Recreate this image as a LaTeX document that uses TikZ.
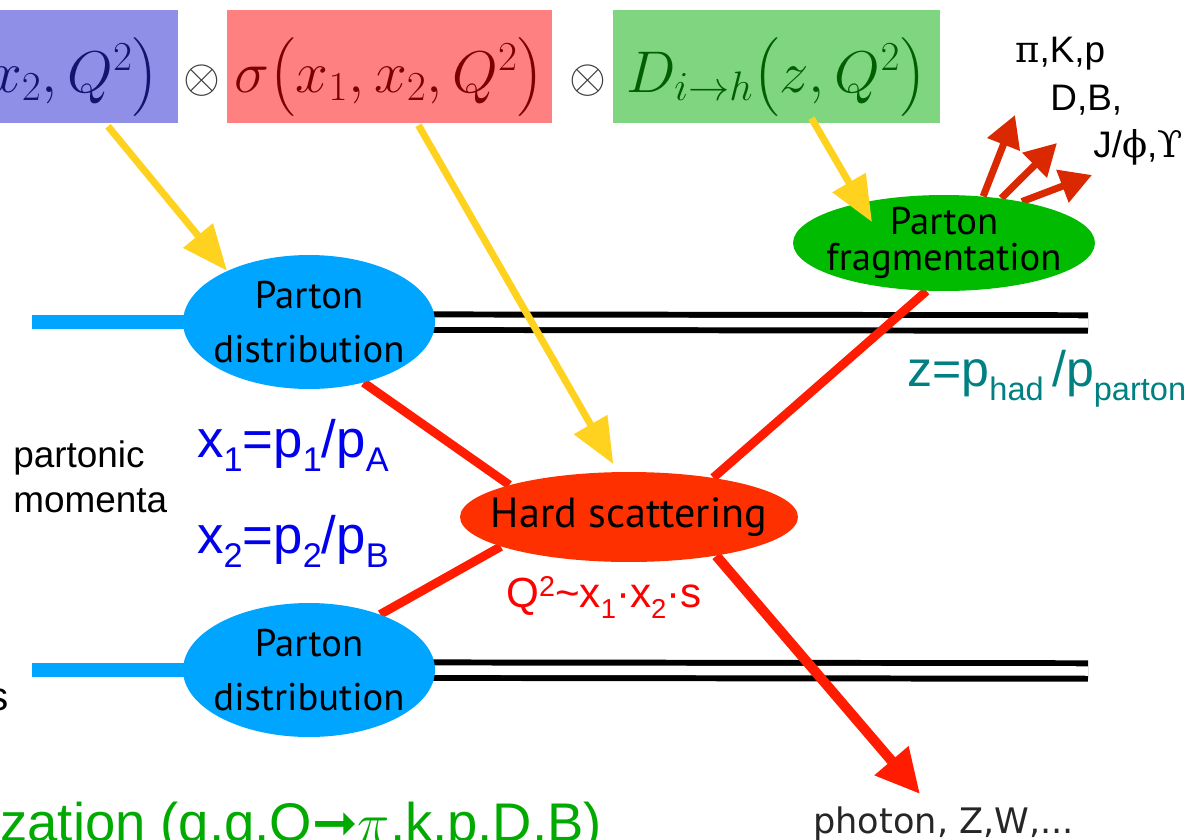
\RequirePackage{fix-cm}
\documentclass[tikz,border=0pt]{standalone}
\usepackage{amsmath}
\usepackage{graphicx}
\usepackage{fontspec}
\setmainfont{Liberation Sans}
\newfontfamily\ptsans{PT Sans}
\newfontfamily\dvsans{DejaVu Sans}
\newfontfamily\grkserif{DejaVu Serif}
\usetikzlibrary{arrows.meta,shapes.geometric,backgrounds,calc}

\definecolor{pdfblue}{RGB}{143,143,232}
\definecolor{xsecred}{RGB}{255,128,128}
\definecolor{ffgreen}{RGB}{128,214,128}
\definecolor{pdfink}{RGB}{20,20,110}
\definecolor{xsecink}{RGB}{125,0,0}
\definecolor{ffink}{RGB}{0,95,0}
\definecolor{otimesgray}{RGB}{60,60,60}
\definecolor{partonblue}{RGB}{0,165,255}
\definecolor{hardred}{RGB}{255,48,0}
\definecolor{fraggreen}{RGB}{0,187,0}
\definecolor{feedyellow}{RGB}{255,210,32}
\definecolor{quarkred}{RGB}{255,28,0}
\definecolor{hadronred}{RGB}{218,40,0}
\definecolor{zteal}{RGB}{0,128,128}
\definecolor{xblue}{RGB}{0,0,238}
\definecolor{qred}{RGB}{255,0,0}
\definecolor{hadrgreen}{RGB}{0,170,0}

% low subscripts and small superscripts as on the slide
\newcommand{\lsub}[1]{\raisebox{-0.28em}{\scalebox{0.65}{#1}}}
\newcommand{\hsup}[1]{\raisebox{0.25em}{\scalebox{0.68}{#1}}}

\begin{document}
\begin{tikzpicture}[x=0.02cm,y=-0.02cm,
        every node/.style={inner sep=0pt},
        mathbox/.style={fill=#1,anchor=base,text height=46.5pt,text depth=17.6pt,
            font=\fontsize{33.5}{48}\selectfont},
        conv/.style={anchor=base,text=otimesgray,font=\fontsize{27}{32}\selectfont},
        blob/.style={ellipse,fill=#1,align=center,inner xsep=-14pt,inner ysep=-4pt},
        pdist/.style={blob=partonblue,minimum width=5.04cm,minimum height=2.68cm,
            font=\ptsans\fontsize{22}{30.6}\selectfont},
        hard/.style={blob=hardred,minimum width=6.76cm,minimum height=1.8cm,
            font=\ptsans\fontsize{24}{28}\selectfont},
        fragm/.style={blob=fraggreen,minimum width=6.04cm,minimum height=1.92cm,
            font=\ptsans\fontsize{22}{20.4}\selectfont},
        feed/.style={feedyellow,line width=4pt,-{Triangle[length=26pt,width=21pt]}},
        beam/.style={partonblue,line width=8.5pt},
        remnant/.style={line width=3.4pt,double=white,double distance=5.4pt},
        quark/.style={quarkred,line width=5pt},
        boson/.style={quarkred,line width=5.7pt,-{Triangle[length=25pt,width=24pt]}},
        hadron/.style={hadronred,line width=4pt,-{Triangle[length=18pt,width=19pt]}},
        lab/.style={anchor=base west,font=\fontsize{#1}{#1}\selectfont}
    ]
    \useasboundingbox (0,0) rectangle (1184,839);
    % Factorised cross section
    \node[mathbox=pdfblue,minimum width=4.16cm,text=pdfink] (boxPDF) at (74,92) {$x_2, Q^2\bigr)$};
    \node[conv] (convA) at (201.5,92) {$\otimes$};
    \node[mathbox=xsecred,minimum width=6.5cm,text=xsecink] (boxXsec) at (389.5,92) {$\sigma\bigl(x_1, x_2, Q^2\bigr)$};
    \node[conv] (convB) at (588,92) {$\otimes$};
    \node[mathbox=ffgreen,minimum width=6.54cm,text=ffink] (boxFF) at (776.5,92) {$D_{i\to h}\bigl(z, Q^2\bigr)$};
    % Blobs
    \node[pdist] (pdA) at (309,322) {Parton\\distribution};
    \node[pdist] (pdB) at (309,670) {Parton\\distribution};
    \node[hard] (hs) at (629,517) {Hard scattering};
    \node[fragm] (frag) at (944,243) {Parton\\fragmentation};
    % Free ends
    \coordinate (beamAin) at (32,322);
    \coordinate (beamAout) at (1088,323);
    \coordinate (beamBin) at (32,670);
    \coordinate (beamBout) at (1088,671);
    \coordinate (photonTip) at (920,794);
    \coordinate (hadA) at (1015,115);
    \coordinate (hadB) at (1057,143);
    \coordinate (hadC) at (1092,175);
    % Lines
    \begin{scope}[on background layer]
        \draw[beam] (beamAin) -- (pdA.center);
        \draw[beam] (beamBin) -- (pdB.center);
        \draw[remnant] (pdA.center) -- (beamAout);
        \draw[remnant] (pdB.center) -- (beamBout);
        \draw[quark] (pdA.-48) -- (hs.165);
        \draw[quark] (pdB.38) -- (hs.193);
        \draw[quark] (hs.25) -- (frag.-110);
        \draw[boson] (hs.-24) -- (photonTip);
        \foreach \a/\t in {50/hadA,38/hadB,28/hadC}{
            \draw[hadron] (frag.\a) -- (\t);
        }
    \end{scope}
    \draw[feed] ($(boxPDF.south)+(34,3)$) -- (pdA.148);
    \draw[feed,shorten >=5pt] ($(boxXsec.south)+(29,2)$) -- (hs.104);
    \draw[feed] ($(boxFF.south)+(35,-5)$) -- ($(frag.center)+(-72,-21)$);
    % Labels
    \node[lab=21,align=left,font=\fontsize{21}{25.5}\selectfont] (momLabel) at (13,512) {partonic\\momenta};
    \node[lab=30,text=xblue] (xOne) at (197,457) {x\lsub{1}=p\lsub{1}/p\lsub{A}};
    \node[lab=30,text=xblue] (xTwo) at (197,553) {x\lsub{2}=p\lsub{2}/p\lsub{B}};
    \node[lab=24,text=qred] (scaleLabel) at (506,607) {Q\hsup{2}\textasciitilde x\lsub{1}·x\lsub{2}·s};
    \node[lab=28.5,text=zteal] (zLabel) at (907,386) {z=p\lsub{had}\,/p\lsub{parton}};
    \node[lab=21] (hadLabA) at (1015,62) {{\grkserif π},K,p};
    \node[lab=21] (hadLabB) at (1050,110) {D,B,};
    \node[lab=21] (hadLabC) at (1093,157) {J/{\grkserif ϕ},{\grkserif ϒ}};
    \node[lab=20,font=\dvsans\fontsize{20}{24}\selectfont,text=black!85] (bosonLabel) at (813,833) {photon, Z,W,...};
    \node[lab=31,text=hadrgreen] (hadrLabel) at (0,841) {zation (q,g,Q{\dvsans ➞}$\pi$,k,p,D,B)};
    \node[anchor=base east,font=\fontsize{23}{28}\selectfont] (cutLabel) at (9,710) {s};
\end{tikzpicture}
\end{document}
